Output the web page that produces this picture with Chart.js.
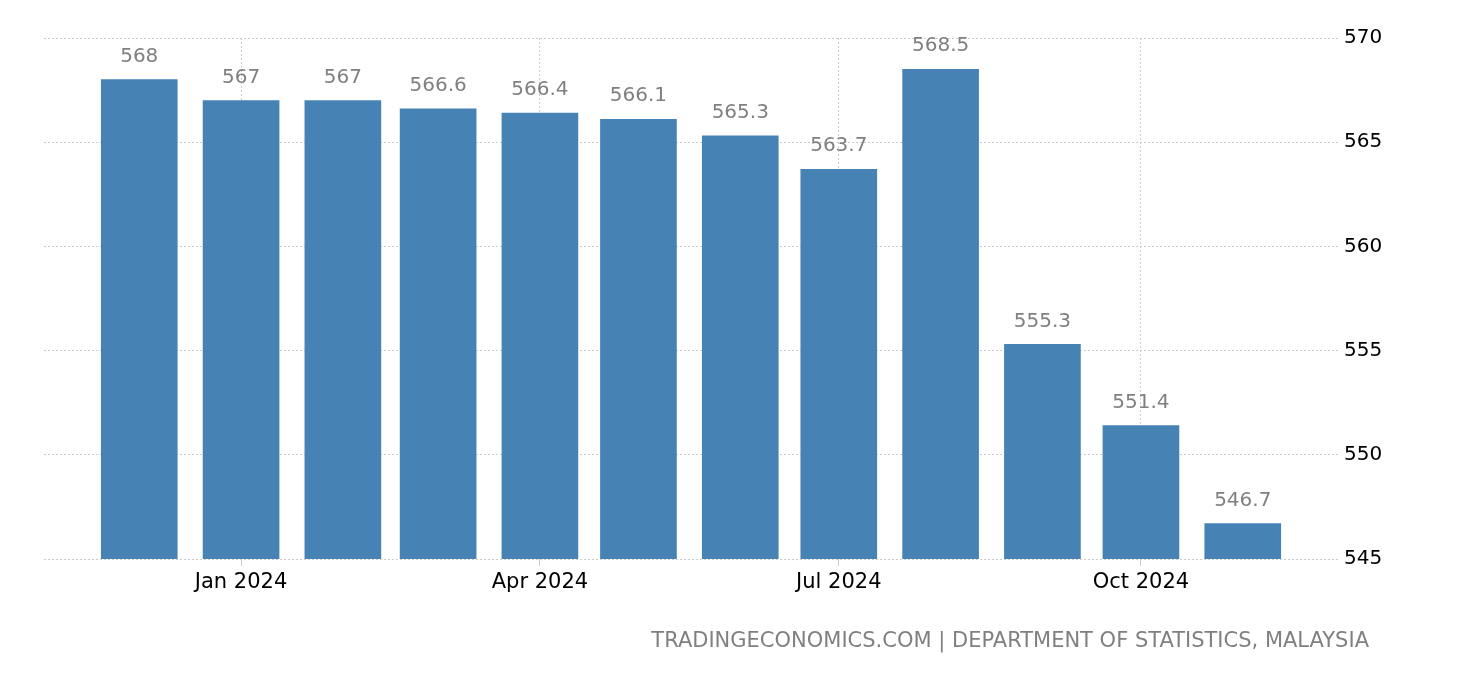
<!DOCTYPE html>
<html lang="en">
<head>
    <meta charset="UTF-8">
    <title>Malaysia - monthly values</title>
    <script src="https://cdn.jsdelivr.net/npm/chart.js"></script>
    <style>
        html, body { margin: 0; padding: 0; background: #fff; }
        #wrap { width: 1460px; height: 680px; position: relative; }
    </style>
</head>
<body>
    <div id="wrap"><canvas id="chart"></canvas></div>
    <script>
        const months = ["2023-12", "2024-01", "2024-02", "2024-03", "2024-04", "2024-05",
            "2024-06", "2024-07", "2024-08", "2024-09", "2024-10", "2024-11"];
        const values = [568, 567, 567, 566.6, 566.4, 566.1, 565.3, 563.7, 568.5, 555.3, 551.4, 546.7];
        const tickMonths = ["2024-01", "2024-04", "2024-07", "2024-10"];
        const tickLabels = ["Jan 2024", "Apr 2024", "Jul 2024", "Oct 2024"];
        const source = "TRADINGECONOMICS.COM | DEPARTMENT OF STATISTICS, MALAYSIA";

        // days since 1 Jan 2024, so bars sit at the real month starts
        const base = Date.UTC(2024, 0, 1);
        function dayOf(m) {
            const [y, mo] = m.split("-").map(Number);
            return (Date.UTC(y, mo - 1, 1) - base) / 86400000;
        }
        const points = months.map((m, i) => ({ x: dayOf(m), y: values[i] }));
        const tickDays = tickMonths.map(dayOf);

        const font = "'DejaVu Sans', sans-serif";

        const valueLabels = {
            id: "valueLabels",
            afterDatasetsDraw(chart) {
                const ctx = chart.ctx;
                ctx.save();
                ctx.font = "20px " + font;
                ctx.fillStyle = "#808080";
                ctx.textAlign = "center";
                ctx.textBaseline = "middle";
                chart.getDatasetMeta(0).data.forEach((bar, i) => {
                    ctx.fillText(String(values[i]), bar.x, bar.y - 23);
                });
                ctx.restore();
            }
        };

        const footer = {
            id: "footer",
            afterDraw(chart) {
                const ctx = chart.ctx;
                ctx.save();
                ctx.font = "21px " + font;
                ctx.fillStyle = "#808080";
                ctx.textAlign = "right";
                ctx.textBaseline = "middle";
                ctx.fillText(source, 1369, 642);
                ctx.restore();
            }
        };

        new Chart(document.getElementById("chart"), {
            type: "bar",
            data: {
                datasets: [{
                    data: points,
                    backgroundColor: "#4682b4",
                    barThickness: 76
                }]
            },
            options: {
                responsive: true,
                maintainAspectRatio: false,
                animation: false,
                layout: { padding: { left: 44, top: 38, right: 0, bottom: 0 } },
                plugins: {
                    legend: { display: false },
                    tooltip: { enabled: false }
                },
                scales: {
                    x: {
                        type: "linear",
                        min: dayOf("2023-12") - 29,
                        max: dayOf("2024-11") + 29,
                        offset: false,
                        afterBuildTicks: (s) => { s.ticks = tickDays.map(v => ({ value: v })); },
                        afterFit: (s) => { s.height = 121; },
                        ticks: {
                            autoSkip: false,
                            maxRotation: 0,
                            padding: 4,
                            color: "#000",
                            font: { family: font, size: 21 },
                            callback: (v) => tickLabels[tickDays.indexOf(v)]
                        },
                        grid: {
                            offset: false,
                            color: "#cccccc",
                            tickLength: 7,
                            tickColor: "#cccccc"
                        },
                        border: { display: false, dash: [2, 2] }
                    },
                    y: {
                        position: "right",
                        min: 545,
                        max: 570,
                        afterFit: (s) => { s.width = 122; },
                        ticks: {
                            stepSize: 5,
                            padding: 6,
                            color: "#000",
                            font: { family: font, size: 20 }
                        },
                        grid: {
                            color: "#cccccc",
                            drawTicks: false
                        },
                        border: { display: false, dash: [2, 2] }
                    }
                }
            },
            plugins: [valueLabels, footer]
        });
    </script>
</body>
</html>
